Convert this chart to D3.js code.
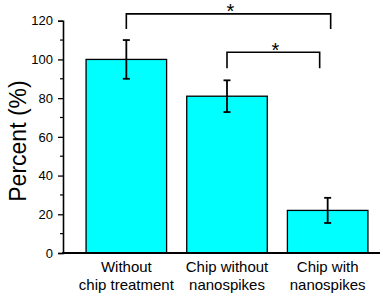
<!DOCTYPE html>
<html><head><meta charset="utf-8">
<script src="https://cdn.jsdelivr.net/npm/d3@7"></script>
<style>body{margin:0;background:#fff}</style>
</head><body>
<svg id="c" width="383" height="297"></svg>
<script>
const categories = ["Without\nchip treatment", "Chip without\nnanospikes", "Chip with\nnanospikes"];
const values = [100, 81, 22];
const errors = [10, 8.2, 6.5];
const yTicks = [0, 20, 40, 60, 80, 100, 120];
const brackets = [
  {from: 0, to: 2, level: 123.5, leg: 115.7, label: "*"},
  {from: 1, to: 2, level: 103.7, leg: 95.4, label: "*"}
];

const svg = d3.select("#c");
const font = "Arial, 'Liberation Sans', sans-serif";
const x0 = 63, x1 = 380;
const y = d3.scaleLinear().domain([0, 120]).range([253, 20.7]);
const x = d3.scaleBand().domain(d3.range(categories.length)).range([76, 378]).paddingInner(0.2).paddingOuter(0.1);

// bars
svg.selectAll("rect.bar").data(values).enter().append("rect")
  .attr("x", (d, i) => x(i)).attr("width", x.bandwidth())
  .attr("y", d => y(d)).attr("height", d => y(0) - y(d))
  .attr("fill", "#00FFFF").attr("stroke", "#000").attr("stroke-width", 1.3);

// error bars
const cx = i => x(i) + x.bandwidth() / 2;
const eg = svg.append("g").attr("stroke", "#000").attr("stroke-width", 1.8);
values.forEach((v, i) => {
  eg.append("line").attr("x1", cx(i)).attr("x2", cx(i)).attr("y1", y(v + errors[i])).attr("y2", y(v - errors[i]));
  [v + errors[i], v - errors[i]].forEach(e => {
    eg.append("line").attr("x1", cx(i) - 3.5).attr("x2", cx(i) + 3.5).attr("y1", y(e)).attr("y2", y(e));
  });
});

// brackets
brackets.forEach((b, k) => {
  const xa = cx(b.from), xb = cx(b.to) + (k === 0 ? 3 : -8);
  svg.append("path")
    .attr("d", `M${xa},${y(b.leg)}V${y(b.level)}H${xb}V${y(b.leg)}`)
    .attr("fill", "none").attr("stroke", "#000").attr("stroke-width", 1.6);
  svg.append("text").attr("x", (xa + xb) / 2 + 2).attr("y", y(b.level) + 4.3)
    .attr("text-anchor", "middle").attr("font-family", font).attr("font-size", 20)
    .text(b.label);
});

// y axis
const yAxis = d3.axisLeft(y).tickValues(yTicks).tickSize(5).tickPadding(5);
const ga = svg.append("g").attr("transform", `translate(${x0},0)`).call(yAxis);
ga.select(".domain").attr("stroke-width", 1.6);
ga.selectAll(".tick line").attr("stroke-width", 1.3);
ga.selectAll(".tick text").attr("font-family", font).attr("font-size", 13).attr("fill", "#000");
const minor = d3.range(10, 120, 20);
svg.append("g").selectAll("line").data(minor).enter().append("line")
  .attr("x1", x0 - 3).attr("x2", x0).attr("y1", d => y(d)).attr("y2", d => y(d))
  .attr("stroke", "#000").attr("stroke-width", 1.2);

// x axis line
svg.append("line").attr("x1", x0 - 0.8).attr("x2", x1).attr("y1", y(0)).attr("y2", y(0))
  .attr("stroke", "#000").attr("stroke-width", 1.8);

// x labels
categories.forEach((c, i) => {
  const t = svg.append("text").attr("text-anchor", "middle").attr("font-family", font)
    .attr("font-size", 15).attr("fill", "#000");
  c.split("\n").forEach((line, k) => {
    t.append("tspan").attr("x", cx(i)).attr("y", 272 + k * 18).text(line);
  });
});

// y title
svg.append("text").attr("transform", "translate(26,141) rotate(-90)")
  .attr("text-anchor", "middle").attr("font-family", font).attr("font-size", 23)
  .text("Percent (%)");
</script>
</body></html>
